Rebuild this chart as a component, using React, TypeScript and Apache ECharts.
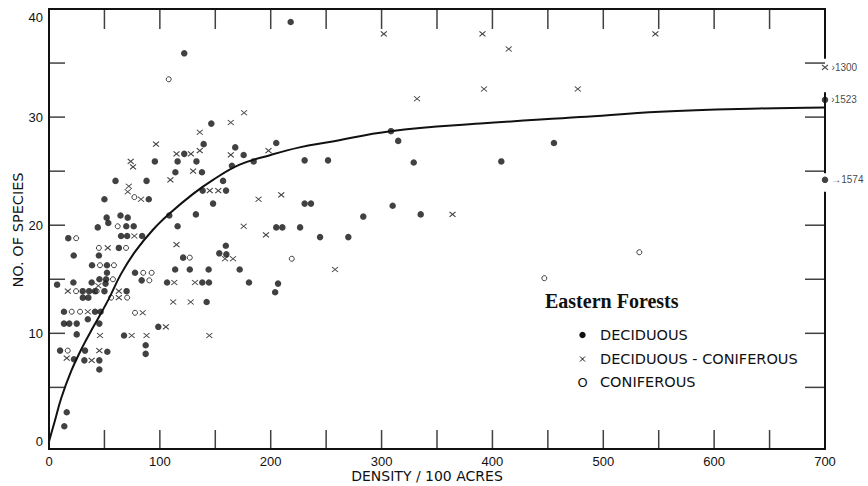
import React, { useEffect, useRef } from "react";
import * as echarts from "echarts";

// ---- data ----
const xLabelStep = 100;
const yLabels = [0, 10, 20, 30, 40];
const xTickValues = [50, 100, 150, 200, 250, 300, 350, 400, 450, 500, 550, 600, 650];
const yTickValues = [5, 10, 15, 20, 25, 30, 35];
const X_MAX = 700;
const Y_MAX = 40;
const Y_MIN = -0.7; // the bottom frame sits a little below the zero line

const deciduous: [number, number][] = [
  [218, 38.8], [122, 35.9], [146.4, 29.4], [139.5, 27.5], [122, 26.6], [168, 27.2],
  [175.6, 26.5], [205, 27.6], [184.6, 25.9], [165, 25.5], [95.5, 25.9], [116, 25.9],
  [133, 25.9], [114, 24.9], [138, 24.9], [60, 24.1], [88, 24.1], [157, 24.1],
  [90, 22.4], [50, 22.4], [138.6, 23.2], [159.7, 23.2], [148, 22.0], [108.5, 20.9],
  [132.5, 21.0], [44, 19.8], [52, 20.7], [53.5, 20.2], [64.5, 20.9], [71, 20.7],
  [69.7, 19.9], [76.4, 19.9], [65, 19.0], [70.5, 19.0], [84, 19.0], [116, 19.9],
  [205, 19.8], [210.5, 19.8], [226.5, 19.8], [17.4, 18.8], [63, 17.9], [159.5, 18.1],
  [230.6, 26.0], [251.7, 26.0], [308.5, 28.7], [315, 27.8], [329, 25.8], [408, 25.9],
  [455.5, 27.6], [230.6, 22.0], [236.3, 22.0], [310, 21.8], [335.3, 21.0], [283.5, 20.8],
  [244.5, 18.9], [270, 18.9],
  [22.3, 17.2], [45, 17.2], [121, 17.0], [153.6, 17.4], [160, 17.3], [38.8, 16.3],
  [52.3, 16.3], [52.3, 15.6], [45.5, 15.0], [51.5, 15.0], [7.3, 14.5], [22, 14.7],
  [38.5, 14.7], [51, 14.6], [172, 15.9], [180.4, 14.7], [204, 13.8], [206.6, 14.6],
  [77.6, 15.6], [83.6, 14.9], [106.5, 14.7], [113.8, 15.9], [127, 15.9], [144, 15.9],
  [138.3, 14.7], [144.3, 14.7], [142.2, 12.9], [98.6, 10.6], [67.7, 9.8], [87.2, 8.9],
  [87.2, 8.1],
  [30.4, 13.9], [36.2, 13.9], [41.5, 13.9], [50, 13.9], [70, 13.9], [30.5, 13.3],
  [35.5, 13.3], [13.5, 12.0], [41.5, 12.0], [46.5, 12.0], [35, 11.3], [13.5, 10.9],
  [18.3, 10.9], [25, 10.9], [45.4, 10.9], [25, 9.9], [10, 8.4], [32.5, 8.4],
  [52.6, 8.3], [22.5, 7.6], [31.9, 7.5], [45.4, 7.5], [45.4, 6.65], [16, 2.7],
  [13.8, 1.4],
];

const deciduousConiferous: [number, number][] = [
  [302, 37.7], [391, 37.7], [547, 37.7], [414.7, 36.3], [392.4, 32.6], [477, 32.6],
  [332, 31.7], [176, 30.4], [164, 29.5], [136, 28.6], [96.5, 27.5], [115, 26.6],
  [128, 26.6], [136, 26.9], [164, 26.5], [198, 26.9], [73.7, 25.9], [75.8, 25.4],
  [130, 25.0], [109.5, 24.2], [72, 23.6], [71, 23.1], [83, 22.4], [145, 23.2],
  [152.7, 23.2], [189, 22.4], [209.5, 22.8], [364, 21.0], [175.6, 19.9], [195.7, 19.1],
  [77, 19.0], [53, 17.9], [115, 18.2], [158.8, 16.9], [166, 16.9], [258, 15.9],
  [113, 14.7], [131.7, 14.7], [112, 12.9], [127.8, 12.9], [84.5, 11.9], [105.4, 10.6],
  [74.6, 9.8], [88, 9.8], [144.6, 9.8], [46, 9.8], [17, 13.9], [63, 13.9],
  [63, 13.3], [35, 12.0], [45.4, 8.4], [16, 7.7], [38.5, 7.5], [44.5, 14.4],
];

const coniferous: [number, number][] = [
  [108, 33.5], [77, 22.6], [62, 19.9], [24.5, 18.8], [45, 17.9], [69.5, 17.9],
  [127, 17.0], [219, 16.9], [46, 16.3], [58.6, 16.3], [57.7, 15.0], [85, 15.6],
  [92.6, 15.6], [90.5, 14.9], [77.6, 11.9], [24.4, 13.9], [43, 13.9], [56, 13.3],
  [70.5, 13.3], [20.5, 12.0], [28, 12.0], [16.9, 8.4], [446.8, 15.1], [532.5, 17.5],
];

// stands beyond the axis (density written next to the mark)
const offScaleGroup = ["deciduous-coniferous", "deciduous", "deciduous"];
const offScaleSpecies = [34.6, 31.6, 24.2];
const offScaleLabel = ["›1300", "›1523", "→1574"];

const fitCurve: [number, number][] = [
  [0, 0], [5, 1.8], [11, 4.0], [20, 6.5], [30, 8.7], [40, 10.6], [53, 13.0],
  [65, 15.5], [78, 17.6], [94, 19.6], [109, 21.1], [130, 22.9], [148, 24.2],
  [172, 25.6], [200, 26.5], [226, 27.2], [253, 27.7], [308, 28.7], [389, 29.4],
  [479, 30.0], [551, 30.5], [641, 30.8], [700, 30.9],
];

const INK = "#111";
const SANS = "DejaVu Sans";
const LABEL_FONT = "Liberation Sans";

export default function App() {
  const ref = useRef<HTMLDivElement>(null);

  useEffect(() => {
    if (!ref.current) return;
    const chart = echarts.init(ref.current, null, { renderer: "svg" });

    const offItems = (group: string) =>
      offScaleGroup
        .map((g, i) => ({ g, i }))
        .filter((o) => o.g === group)
        .map(({ i }) => ({
          value: [X_MAX, offScaleSpecies[i]],
          label: {
            show: true,
            position: "right",
            distance: 3,
            formatter: offScaleLabel[i],
            color: INK,
            fontSize: 10,
            fontFamily: LABEL_FONT,
          },
        }));

    // frame: the right side is interrupted where the off-scale notes are written
    const frameSegments: [number, number][][] = [
      [[0, Y_MAX], [X_MAX, Y_MAX]],
      [[0, Y_MIN], [X_MAX, Y_MIN]],
      [[0, Y_MIN], [0, Y_MAX]],
      [[X_MAX, Y_MAX], [X_MAX, offScaleSpecies[0] + 0.9]],
      [[X_MAX, offScaleSpecies[0] - 2.4], [X_MAX, offScaleSpecies[2] + 0.7]],
      [[X_MAX, offScaleSpecies[2] - 1.2], [X_MAX, Y_MIN]],
    ];

    const frameSeries = frameSegments.map((d) => ({
      type: "line",
      data: d,
      symbol: "none",
      clip: false,
      silent: true,
      lineStyle: { color: INK, width: 2, cap: "square" },
      z: 4,
    }));

    const tickSeries = (data: number[][], size: number[], offset: number[]) => ({
      type: "scatter",
      data,
      symbol: "rect",
      symbolSize: size,
      symbolOffset: offset,
      clip: false,
      silent: true,
      itemStyle: { color: INK },
      z: 4,
    });

    chart.setOption({
      animation: false,
      backgroundColor: "#fff",
      grid: { left: 49, right: 43, top: 9, bottom: 37, show: false, borderWidth: 0 },
      xAxis: {
        type: "value",
        min: 0,
        max: X_MAX,
        interval: 50,
        position: "bottom",
        axisLine: { show: false, onZero: false },
        axisTick: { show: false },
        axisLabel: {
          margin: 6,
          color: INK,
          fontSize: 13,
          fontFamily: LABEL_FONT,
          formatter: (v: number) => (v % xLabelStep === 0 ? String(v) : ""),
        },
        splitLine: { show: false },
      },
      yAxis: {
        type: "value",
        min: Y_MIN,
        max: Y_MAX,
        position: "left",
        axisLine: { show: false, onZero: false },
        axisTick: { show: false },
        axisLabel: {
          margin: 6,
          color: INK,
          fontSize: 13,
          fontFamily: LABEL_FONT,
          customValues: yLabels,
          formatter: (v: number) => (v === Y_MAX ? "{top|40}" : String(v)),
          rich: {
            top: { padding: [17, 0, 0, 0], fontSize: 13, fontFamily: LABEL_FONT, color: INK },
          },
        },
        splitLine: { show: false },
      },
      series: [
        ...frameSeries,
        tickSeries(xTickValues.map((v) => [v, Y_MIN]), [1.5, 19], [0, -9.5]),
        tickSeries(xTickValues.map((v) => [v, Y_MAX]), [1.5, 20], [0, 10]),
        tickSeries(yTickValues.map((v) => [0, v]), [16, 1.5], [8, 0]),
        tickSeries(yTickValues.map((v) => [X_MAX, v]), [20, 1.5], [-10, 0]),
        {
          type: "line",
          data: fitCurve,
          smooth: 0.4,
          symbol: "none",
          lineStyle: { color: INK, width: 2 },
          z: 1,
        },
        {
          name: "DECIDUOUS",
          type: "scatter",
          data: [...deciduous, ...offItems("deciduous")],
          symbol: "circle",
          symbolSize: 6.5,
          clip: false,
          itemStyle: { color: INK },
          z: 5,
        },
        {
          name: "DECIDUOUS - CONIFEROUS",
          type: "scatter",
          data: [...deciduousConiferous, ...offItems("deciduous-coniferous")],
          symbol: "path://M0,0L10,10M10,0L0,10",
          symbolSize: [6, 5],
          clip: false,
          itemStyle: { color: "transparent", borderColor: INK, borderWidth: 1 },
          z: 5,
        },
        {
          name: "CONIFEROUS",
          type: "scatter",
          data: coniferous,
          symbol: "circle",
          symbolSize: 5,
          itemStyle: { color: "transparent", borderColor: INK, borderWidth: 1 },
          z: 5,
        },
      ],
      graphic: [
        {
          type: "text",
          x: 17.5,
          y: 230,
          rotation: Math.PI / 2,
          style: {
            text: "NO. OF SPECIES",
            fill: INK,
            font: `14.5px "${SANS}"`,
            align: "center",
            verticalAlign: "middle",
          },
        },
        {
          type: "text",
          x: 427,
          y: 476,
          style: {
            text: "DENSITY / 100 ACRES",
            fill: INK,
            font: `14px "${SANS}"`,
            align: "center",
            verticalAlign: "middle",
          },
        },
        {
          type: "text",
          x: 545,
          y: 301,
          style: {
            text: "Eastern Forests",
            fill: INK,
            font: `bold 20px "Liberation Serif"`,
            align: "left",
            verticalAlign: "middle",
          },
        },
        { type: "circle", shape: { cx: 582.5, cy: 335, r: 3.2 }, style: { fill: INK } },
        { type: "line", shape: { x1: 580, y1: 356.5, x2: 585, y2: 361.5 }, style: { stroke: INK, lineWidth: 1 } },
        { type: "line", shape: { x1: 585, y1: 356.5, x2: 580, y2: 361.5 }, style: { stroke: INK, lineWidth: 1 } },
        {
          type: "text",
          x: 582.5,
          y: 382,
          style: { text: "O", fill: INK, font: `13px "${SANS}"`, align: "center", verticalAlign: "middle" },
        },
        {
          type: "text",
          x: 600,
          y: 335,
          style: { text: "DECIDUOUS", fill: INK, font: `14.5px "${SANS}"`, verticalAlign: "middle" },
        },
        {
          type: "text",
          x: 600,
          y: 359,
          style: { text: "DECIDUOUS - CONIFEROUS", fill: INK, font: `14.5px "${SANS}"`, verticalAlign: "middle" },
        },
        {
          type: "text",
          x: 600,
          y: 382,
          style: { text: "CONIFEROUS", fill: INK, font: `14.5px "${SANS}"`, verticalAlign: "middle" },
        },
      ],
    });

    return () => chart.dispose();
  }, []);

  return (
    <div
      ref={ref}
      style={{ position: "absolute", left: 0, top: 0, width: 868, height: 486, background: "#fff" }}
    />
  );
}
